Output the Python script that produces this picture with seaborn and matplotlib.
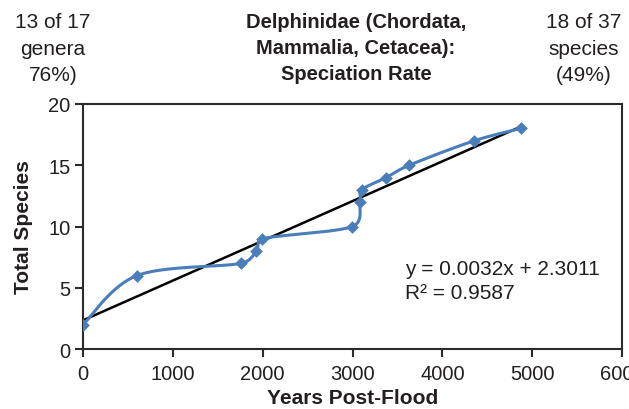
import numpy as np
import pandas as pd
import matplotlib
matplotlib.use("Agg")
import matplotlib.pyplot as plt
import seaborn as sns

years = [0, 600, 1760, 1930, 1990, 2995, 3085, 3105, 3375, 3630, 4355, 4875]
species = [2, 6, 7, 8, 9, 10, 12, 13, 14, 15, 17, 18]
title = "Delphinidae (Chordata,\nMammalia, Cetacea):\nSpeciation Rate"
left_note = "13 of 17\ngenera\n76%)"
right_note = "18 of 37\nspecies\n(49%)"
eq_line = "y = 0.0032x + 2.3011"
r2_line = "R² = 0.9587"

BLUE = "#4a7ebb"
INK = "#231f20"


def smooth(ax, xs, ys, n=40):
    # Excel-like smoothed line: bezier segments, worked out in screen space
    pts = ax.transData.transform(np.column_stack([xs, ys]).astype(float))
    p = np.vstack([pts[0], pts, pts[-1]])
    t = np.linspace(0, 1, n)[:, None]
    out = []
    for i in range(1, len(p) - 2):
        p0, p1, p2, p3 = p[i - 1], p[i], p[i + 1], p[i + 2]
        half = np.hypot(*(p2 - p1)) / 2
        o1 = (p2 - p0) / 6
        o2 = (p3 - p1) / 6
        if np.hypot(*o1) > half:
            o1 = o1 * half / np.hypot(*o1)
        if np.hypot(*o2) > half:
            o2 = o2 * half / np.hypot(*o2)
        b1, b2 = p1 + o1, p2 - o2
        seg = (1 - t) ** 3 * p1 + 3 * (1 - t) ** 2 * t * b1 + 3 * (1 - t) * t ** 2 * b2 + t ** 3 * p2
        out.append(seg)
    out = ax.transData.inverted().transform(np.vstack(out))
    return out[:, 0], out[:, 1]


sns.set_style("white")
plt.rcParams["font.family"] = ["Liberation Sans", "DejaVu Sans"]
plt.rcParams["text.color"] = INK
plt.rcParams["axes.labelcolor"] = INK

df = pd.DataFrame({"years": years, "species": species})

fig = plt.figure(figsize=(6.29, 4.10), dpi=100)
ax = fig.add_axes([0.132, 0.146, 0.857, 0.598])
ax.set_xlim(0, 6000)
ax.set_ylim(0, 20)

sx, sy = smooth(ax, years, species)
curve = pd.DataFrame({"x": sx, "y": sy})

sns.regplot(data=df, x="years", y="species", scatter=False, ci=None, truncate=True,
            line_kws={"color": "black", "lw": 1.8, "zorder": 2}, ax=ax)
sns.lineplot(data=curve, x="x", y="y", sort=False, estimator=None, color=BLUE, lw=2.2, ax=ax, zorder=3)
sns.scatterplot(data=df, x="years", y="species", marker="D", s=42, color=BLUE, edgecolor=BLUE,
                linewidth=0, ax=ax, zorder=4)

ax.set_xlim(0, 6000)
ax.set_ylim(0, 20)
ax.set_xticks(range(0, 6001, 1000))
ax.set_yticks(range(0, 21, 5))
for s in ax.spines.values():
    s.set_color("#2b2b2b")
    s.set_linewidth(1.5)
ax.tick_params(axis="both", direction="out", length=6, width=1.5, color="#2b2b2b",
               labelsize=14.5, labelcolor=INK, pad=3, bottom=True, left=True)
ax.tick_params(axis="x", pad=5)
ax.set_xlabel("Years Post-Flood", fontsize=15, fontweight="bold", labelpad=3)
ax.set_ylabel("Total Species", fontsize=15, fontweight="bold", labelpad=11)

ax.text(3585, 6.1, eq_line, fontsize=15, color=INK, ha="left", va="baseline")
ax.text(3585, 4.2, r2_line, fontsize=15, color=INK, ha="left", va="baseline")

fig.text(0.566, 0.968, title, ha="center", va="top", fontsize=14.5, fontweight="bold", linespacing=1.45)
fig.text(0.084, 0.968, left_note, ha="center", va="top", fontsize=15, linespacing=1.5)
fig.text(0.928, 0.968, right_note, ha="center", va="top", fontsize=15, linespacing=1.5)

fig.savefig("out.png", dpi=100)
